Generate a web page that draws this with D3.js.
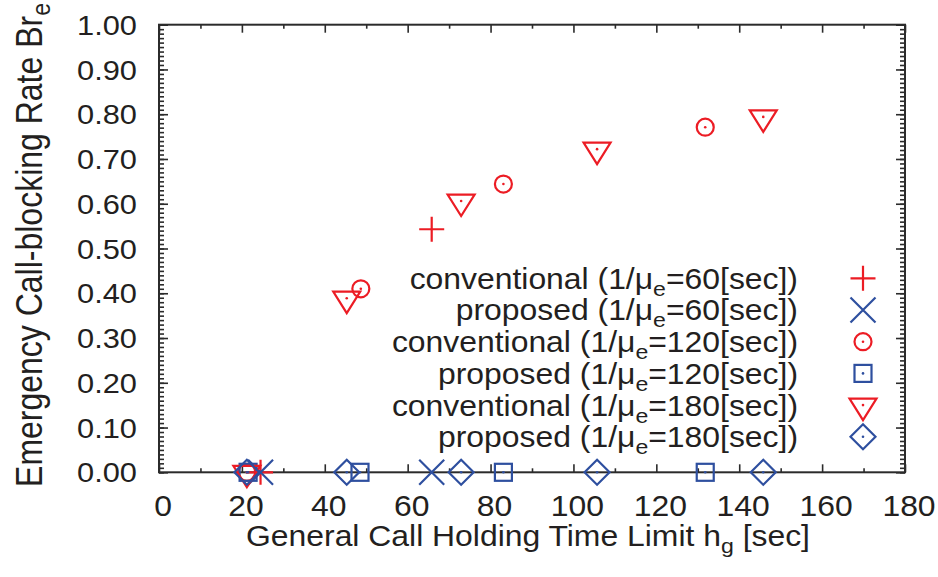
<!DOCTYPE html>
<html>
<head>
<meta charset="utf-8">
<script src="https://cdn.jsdelivr.net/npm/d3@7"></script>
<style>
  body { margin: 0; background: #fff; }
  svg { display: block; }
  text { font-family: "Liberation Sans", Arial, Helvetica, sans-serif; fill: #231f20; }
</style>
</head>
<body>
<svg id="chart" width="938" height="577"></svg>
<script>
// Holding-time limits h_g [sec] and emergency call-blocking rates Br_e
const hg60 = [24.5, 65.8];
const conventional60 = [0, 0.543];
const proposed60 = [0, 0];

const hg120 = [21.2, 48.7, 83.1, 131.8];
const conventional120 = [0, 0.410, 0.644, 0.771];
const hg120p = [21.5, 48.5, 83.1, 131.8];
const proposed120 = [0, 0, 0, 0];

const hg180 = [21.2, 45.3, 72.9, 105.7, 145.8];
const conventional180 = [0, 0.389, 0.606, 0.722, 0.794];
const proposed180 = [0, 0, 0, 0, 0];

const holdingLabels = ["60", "60", "120", "120", "180", "180"];
const schemeLabels = ["conventional", "proposed", "conventional", "proposed", "conventional", "proposed"];

const xTickValues = [0, 20, 40, 60, 80, 100, 120, 140, 160, 180];
const xMinorValues = [10, 30, 50, 70, 90, 110, 130, 150, 170];
const yTickValues = [0, 0.1, 0.2, 0.3, 0.4, 0.5, 0.6, 0.7, 0.8, 0.9, 1.0];

const RED = "#ec1c24";
const BLUE = "#2e4f9f";
const AXIS = "#2b2b2b";
const SX = 1.1; // horizontal stretch of the lettering

const series = [
  { xs: hg60,   ys: conventional60,  color: RED,  shape: "plus" },
  { xs: hg60,   ys: proposed60,      color: BLUE, shape: "cross" },
  { xs: hg120,  ys: conventional120, color: RED,  shape: "circle" },
  { xs: hg120p, ys: proposed120,     color: BLUE, shape: "square" },
  { xs: hg180,  ys: conventional180, color: RED,  shape: "triangle" },
  { xs: hg180,  ys: proposed180,     color: BLUE, shape: "diamond" }
];

const svg = d3.select("#chart");
const plot = { left: 159, right: 905, top: 24.7, bottom: 472.3 };

const x = d3.scaleLinear().domain([0, 180]).range([plot.left, plot.right]);
const y = d3.scaleLinear().domain([0, 1]).range([plot.bottom, plot.top]);

// Inward ticks on all four sides
const axisG = svg.append("g").attr("class", "axes");
function tickAxis(gen, transform) {
  const g = axisG.append("g").attr("transform", transform).call(gen);
  g.selectAll(".domain").remove();
  g.selectAll("line").attr("stroke", AXIS).attr("stroke-width", 1.6);
  g.selectAll("text").remove();
  return g;
}
const yMinor = d3.range(0, 101).map(d => d / 100);
tickAxis(d3.axisLeft(y).tickValues(yMinor).tickSize(-5), `translate(${plot.left},0)`);
tickAxis(d3.axisLeft(y).tickValues(yTickValues).tickSize(-9), `translate(${plot.left},0)`);
tickAxis(d3.axisRight(y).tickValues(yMinor).tickSize(-5), `translate(${plot.right},0)`);
tickAxis(d3.axisRight(y).tickValues(yTickValues).tickSize(-9), `translate(${plot.right},0)`);
tickAxis(d3.axisBottom(x).tickValues(xMinorValues).tickSize(-4), `translate(0,${plot.bottom})`);
tickAxis(d3.axisBottom(x).tickValues(xTickValues).tickSize(-8), `translate(0,${plot.bottom})`);
tickAxis(d3.axisTop(x).tickValues(xMinorValues).tickSize(-4), `translate(0,${plot.top})`);
tickAxis(d3.axisTop(x).tickValues(xTickValues).tickSize(-8), `translate(0,${plot.top})`);

axisG.append("rect")
  .attr("x", plot.left).attr("y", plot.top)
  .attr("width", plot.right - plot.left).attr("height", plot.bottom - plot.top)
  .attr("fill", "none").attr("stroke", AXIS).attr("stroke-width", 2);

// Tick labels
const yFmt = d3.format(".2f");
svg.append("g").selectAll("text").data(yTickValues).join("text")
  .attr("transform", d => `translate(137,${y(d)}) scale(${SX},1)`)
  .attr("dy", "0.36em").attr("text-anchor", "end")
  .attr("font-size", 28).text(d => yFmt(d));
svg.append("g").selectAll("text").data(xTickValues).join("text")
  .attr("transform", d => `translate(${x(d) + 4},516) scale(${SX},1)`)
  .attr("text-anchor", "middle")
  .attr("font-size", 29).text(d => d);

// Axis titles
const xt = svg.append("text")
  .attr("transform", `translate(528,546) scale(${SX},1)`)
  .attr("text-anchor", "middle").attr("font-size", 29);
xt.append("tspan").text("General Call Holding Time Limit h");
xt.append("tspan").attr("dy", 7).attr("font-size", 21).text("g");
xt.append("tspan").attr("dy", -7).text(" [sec]");

const yt = svg.append("text")
  .attr("transform", `translate(42,245) rotate(-90) scale(1,1.15)`)
  .attr("text-anchor", "middle").attr("font-size", 32);
yt.append("tspan").text("Emergency Call-blocking Rate Br");
yt.append("tspan").attr("dy", 7).attr("font-size", 23).text("e");

// Marker shapes
function drawMarker(g, shape, color) {
  const sw = 2.2;
  const dot = () => g.append("circle").attr("r", 1.3).attr("fill", color);
  if (shape === "plus") {
    g.append("path").attr("d", "M-12.5,0H12.5M0,-12.5V12.5")
      .attr("stroke", color).attr("stroke-width", sw).attr("fill", "none");
  } else if (shape === "cross") {
    g.append("path").attr("d", "M-12.5,-12.5L12.5,12.5M-12.5,12.5L12.5,-12.5")
      .attr("stroke", color).attr("stroke-width", sw).attr("fill", "none");
  } else if (shape === "circle") {
    g.append("circle").attr("r", 8.5)
      .attr("stroke", color).attr("stroke-width", sw).attr("fill", "none");
    dot();
  } else if (shape === "square") {
    g.append("rect").attr("x", -8.5).attr("y", -8.5).attr("width", 17).attr("height", 17)
      .attr("stroke", color).attr("stroke-width", sw).attr("fill", "none");
    dot();
  } else if (shape === "triangle") {
    g.append("path").attr("d", "M-13.5,-6.5L13.5,-6.5L0,15Z")
      .attr("stroke", color).attr("stroke-width", sw).attr("fill", "none")
      .attr("stroke-linejoin", "miter");
    dot();
  } else if (shape === "diamond") {
    g.append("path").attr("d", "M0,-12.5L12.5,0L0,12.5L-12.5,0Z")
      .attr("stroke", color).attr("stroke-width", sw).attr("fill", "none");
    dot();
  }
}

// Data points
series.forEach(s => {
  const pts = s.xs.map((v, i) => [v, s.ys[i]]);
  svg.append("g").selectAll("g").data(pts).join("g")
    .attr("transform", d => `translate(${x(d[0])},${y(d[1])})`)
    .each(function () { drawMarker(d3.select(this), s.shape, s.color); });
});

// Legend
const legendTop = 278.3, legendStep = 31.7;
series.forEach((s, i) => {
  const ly = legendTop + i * legendStep;
  const t = svg.append("text")
    .attr("transform", `translate(798,${ly}) scale(${SX},1)`)
    .attr("dy", "0.36em").attr("text-anchor", "end").attr("font-size", 29);
  t.append("tspan").text(`${schemeLabels[i]} (1/μ`);
  t.append("tspan").attr("dy", 7).attr("font-size", 21).text("e");
  t.append("tspan").attr("dy", -7).text(`=${holdingLabels[i]}[sec])`);
  const g = svg.append("g").attr("transform", `translate(863,${ly})`);
  drawMarker(g, s.shape, s.color);
});
</script>
</body>
</html>
